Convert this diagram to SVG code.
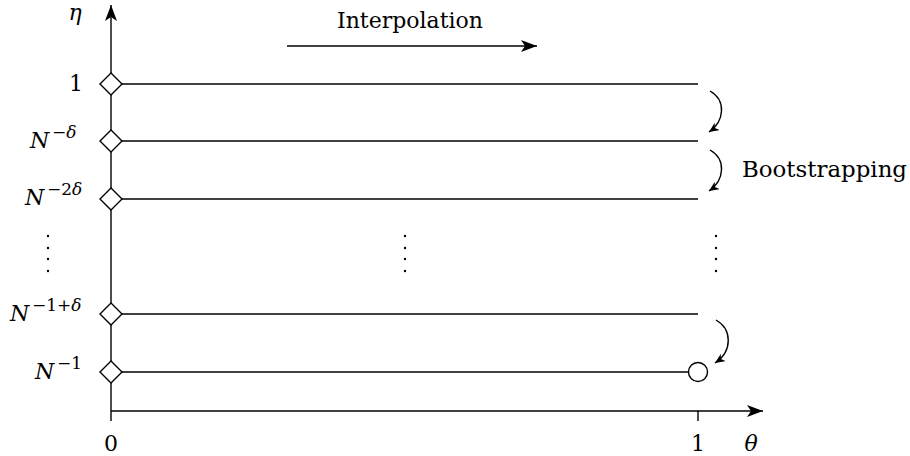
<svg xmlns="http://www.w3.org/2000/svg" width="910" height="456" viewBox="0 0 910 456">
<style>
  .ln { stroke: #000; stroke-width: 1.4; fill: none; }
  .dm { stroke: #000; stroke-width: 1.4; fill: #fff; }
  .dot { fill: #000; }
</style>
<defs>
  <marker id="big" markerUnits="userSpaceOnUse" markerWidth="18" markerHeight="14" refX="16" refY="6" orient="auto">
    <path d="M0,0 L16,6 L0,12 L4,6 Z" fill="#000"/>
  </marker>
  <marker id="sm" markerUnits="userSpaceOnUse" markerWidth="12" markerHeight="10" refX="10" refY="4.5" orient="auto">
    <path d="M0,0 L10,4.5 L0,9 L3,4.5 Z" fill="#000"/>
  </marker>
</defs>

<g id="connectors">
  <line class="ln" x1="111" y1="421" x2="111" y2="5" marker-end="url(#big)"/>
  <line class="ln" x1="111" y1="411" x2="763" y2="411" marker-end="url(#big)"/>
  <line class="ln" x1="698" y1="411" x2="698" y2="421"/>
  <line class="ln" x1="111" y1="84" x2="698" y2="84"/>
  <line class="ln" x1="111" y1="141" x2="698" y2="141"/>
  <line class="ln" x1="111" y1="199" x2="698" y2="199"/>
  <line class="ln" x1="111" y1="314" x2="698" y2="314"/>
  <line class="ln" x1="111" y1="372" x2="698" y2="372"/>
  <line class="ln" x1="287" y1="46" x2="537" y2="46" marker-end="url(#big)"/>
  <path class="ln" d="M710,91 C726,100 725,121 709,132" marker-end="url(#sm)"/>
  <path class="ln" d="M710,150 C726,159 725,180 709,191" marker-end="url(#sm)"/>
  <path class="ln" d="M716,320 C732,329 733,351 715,363" marker-end="url(#sm)"/>
</g>

<g id="node-1"><path class="dm" d="M111,73 L122,84 L111,95 L100,84 Z"/></g>
<g id="node-ndelta"><path class="dm" d="M111,130 L122,141 L111,152 L100,141 Z"/></g>
<g id="node-n2delta"><path class="dm" d="M111,188 L122,199 L111,210 L100,199 Z"/></g>
<g id="node-n1delta"><path class="dm" d="M111,303 L122,314 L111,325 L100,314 Z"/></g>
<g id="node-n1"><path class="dm" d="M111,361 L122,372 L111,383 L100,372 Z"/></g>
<g id="node-end"><circle cx="698" cy="372" r="9.5" class="dm"/></g>

<g id="labels" font-family="DejaVu Serif, serif" font-size="22" fill="#000">
  <text x="75" y="20" text-anchor="middle" font-style="italic">η</text>
  <text x="83" y="91" text-anchor="end">1</text>

  <text x="30" y="148" font-style="italic">N</text>
  <text x="52" y="138" font-size="17">−<tspan font-style="italic">δ</tspan></text>

  <text x="25" y="205" font-style="italic">N</text>
  <text x="47" y="195" font-size="17">−2<tspan font-style="italic">δ</tspan></text>

  <text x="10" y="321" font-style="italic">N</text>
  <text x="32" y="311" font-size="17">−1+<tspan font-style="italic">δ</tspan></text>

  <text x="35" y="379" font-style="italic">N</text>
  <text x="57" y="369" font-size="17">−1</text>

  <text x="111" y="451" text-anchor="middle">0</text>
  <text x="698" y="451" text-anchor="middle">1</text>
  <text x="751" y="451" text-anchor="middle" font-style="italic">θ</text>

  <text x="337" y="28" textLength="146" lengthAdjust="spacingAndGlyphs">Interpolation</text>
  <text x="742" y="177" textLength="165" lengthAdjust="spacingAndGlyphs">Bootstrapping</text>

  <circle class="dot" cx="48" cy="236" r="1.2"/>
  <circle class="dot" cx="48" cy="248" r="1.2"/>
  <circle class="dot" cx="48" cy="259" r="1.2"/>
  <circle class="dot" cx="48" cy="271" r="1.2"/>
  <circle class="dot" cx="405" cy="236" r="1.2"/>
  <circle class="dot" cx="405" cy="248" r="1.2"/>
  <circle class="dot" cx="405" cy="259" r="1.2"/>
  <circle class="dot" cx="405" cy="271" r="1.2"/>
  <circle class="dot" cx="716" cy="236" r="1.2"/>
  <circle class="dot" cx="716" cy="248" r="1.2"/>
  <circle class="dot" cx="716" cy="259" r="1.2"/>
  <circle class="dot" cx="716" cy="271" r="1.2"/>
</g>
</svg>
